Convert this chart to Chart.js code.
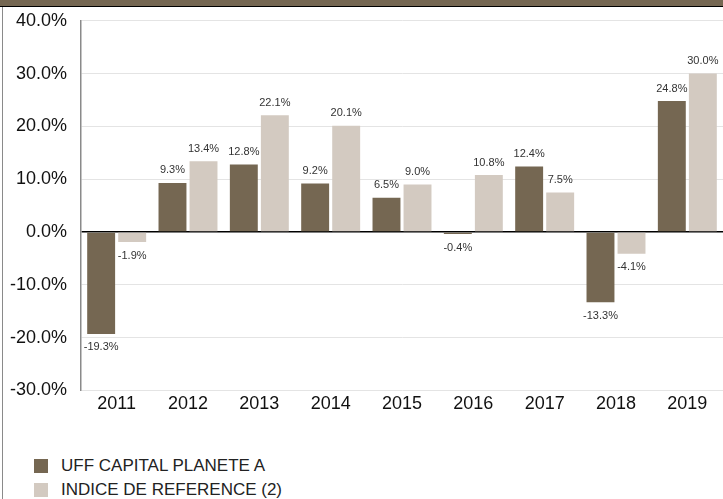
<!DOCTYPE html>
<html>
<head>
<meta charset="utf-8">
<script src="https://cdn.jsdelivr.net/npm/chart.js@4/dist/chart.umd.min.js"></script>
<style>
  body { margin: 0; background: #fff; font-family: "Liberation Sans", Arial, sans-serif; }
  #wrap { position: relative; width: 723px; height: 499px; overflow: hidden; }
  #box { position: absolute; left: 0; top: -4px; width: 723px; height: 422px; }
  #top { position: absolute; left: 0; top: 0; width: 723px; height: 6px; background: #756752; border-bottom: 1px solid #000; }
  #side { position: absolute; left: 2px; top: 7px; width: 1px; height: 492px; background: #8a8a8a; }
  #legend { position: absolute; left: 34px; top: 454px; }
  .item { height: 24px; display: flex; align-items: center; font-size: 17px; color: #222; }
  .sw { width: 14px; height: 14px; margin-right: 13px; }
</style>
</head>
<body>
<div id="wrap">
  <div id="box"><canvas id="chart"></canvas></div>
  <div id="top"></div>
  <div id="side"></div>
  <div id="legend"></div>
</div>
<script>
    const years = ['2011', '2012', '2013', '2014', '2015', '2016', '2017', '2018', '2019'];
    const fundValues = [-19.3, 9.3, 12.8, 9.2, 6.5, -0.4, 12.4, -13.3, 24.8];
    const indexValues = [-1.9, 13.4, 22.1, 20.1, 9.0, 10.8, 7.5, -4.1, 30.0];
    const seriesNames = ['UFF CAPITAL PLANETE A', 'INDICE DE REFERENCE (2)'];
    const seriesColors = ['#756752', '#d3cac1'];

    // value labels above / below each bar
    const barLabels = {
        id: 'barLabels',
        afterDatasetsDraw(chart) {
            const ctx = chart.ctx;
            ctx.save();
            ctx.font = '11px "Liberation Sans", Arial, sans-serif';
            ctx.fillStyle = '#333';
            ctx.textAlign = 'center';
            chart.data.datasets.forEach((ds, i) => {
                chart.getDatasetMeta(i).data.forEach((bar, j) => {
                    const v = ds.data[j];
                    const txt = v.toFixed(1) + '%';
                    if (v >= 0) {
                        ctx.textBaseline = 'bottom';
                        ctx.fillText(txt, bar.x, bar.y - 7);
                    } else {
                        ctx.textBaseline = 'top';
                        ctx.fillText(txt, bar.x, bar.y + 8);
                    }
                });
            });
            ctx.restore();
        }
    };

    new Chart(
        document.getElementById('chart'),
        {
            type: 'bar',
            data: {
                labels: years,
                datasets: [
                    {
                        label: seriesNames[0],
                        data: fundValues,
                        backgroundColor: seriesColors[0],
                        categoryPercentage: 0.87,
                        barPercentage: 0.9
                    },
                    {
                        label: seriesNames[1],
                        data: indexValues,
                        backgroundColor: seriesColors[1],
                        categoryPercentage: 0.87,
                        barPercentage: 0.9
                    }
                ]
            },
            options: {
                responsive: true,
                maintainAspectRatio: false,
                animation: false,
                layout: { padding: { left: 10, right: 0, top: 0, bottom: 0 } },
                plugins: {
                    legend: { display: false },
                    tooltip: { enabled: false }
                },
                scales: {
                    x: {
                        grid: { display: false, drawTicks: false },
                        border: { display: false },
                        ticks: {
                            color: '#111',
                            padding: 3,
                            font: { family: '"Liberation Sans", Arial, sans-serif', size: 18 }
                        }
                    },
                    y: {
                        min: -30,
                        max: 40,
                        afterFit: s => { s.width = 71; },
                        grid: {
                            drawTicks: false,
                            color: c => c.tick && c.tick.value === 0 ? '#000' : '#e4e4e4',
                            lineWidth: c => c.tick && c.tick.value === 0 ? 1.5 : 1
                        },
                        border: { color: '#8a8a8a', width: 1.5 },
                        ticks: {
                            stepSize: 10,
                            padding: 14,
                            color: '#111',
                            font: { family: '"Liberation Sans", Arial, sans-serif', size: 18 },
                            callback: v => v.toFixed(1) + '%'
                        }
                    }
                }
            },
            plugins: [barLabels]
        }
    );

    const legend = document.getElementById('legend');
    seriesNames.forEach((name, i) => {
        const row = document.createElement('div');
        row.className = 'item';
        row.innerHTML = '<span class="sw" style="background:' + seriesColors[i] + '"></span>' + name;
        legend.appendChild(row);
    });
</script>
</body>
</html>
